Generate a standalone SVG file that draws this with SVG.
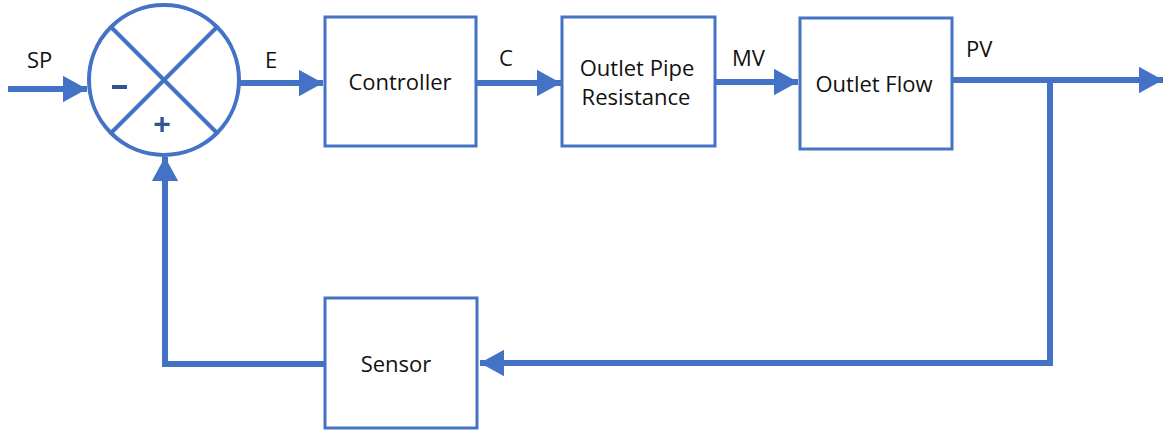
<svg xmlns="http://www.w3.org/2000/svg" width="1164" height="434" viewBox="0 0 1164 434">
<style>
.box{fill:#fff;stroke:#4472C4;stroke-width:3}
.ln{fill:none;stroke:#4472C4;stroke-width:6}
.t{font-family:"Open Sans","Liberation Sans",sans-serif;font-size:22px;fill:#111}
.sg{font-family:"Liberation Sans",sans-serif;font-size:30px;font-weight:bold;fill:#2F5597}
</style>
<defs>
<marker id="ah" markerWidth="4" markerHeight="4.4" refX="4" refY="2.2" orient="auto" markerUnits="strokeWidth">
<path d="M0,0 L4,2.2 L0,4.4 Z" fill="#4472C4"/>
</marker>
</defs>
<g id="connectors">
<line class="ln" x1="8" y1="89" x2="87" y2="89" marker-end="url(#ah)"/>
<line class="ln" x1="240" y1="83" x2="323" y2="83" marker-end="url(#ah)"/>
<line class="ln" x1="477" y1="83" x2="561" y2="83" marker-end="url(#ah)"/>
<line class="ln" x1="715" y1="82" x2="798" y2="82" marker-end="url(#ah)"/>
<line class="ln" x1="952" y1="80" x2="1163" y2="80" marker-end="url(#ah)"/>
<polyline class="ln" points="1050,80 1050,363 480,363" marker-end="url(#ah)"/>
<polyline class="ln" points="325,364 165,364 165,157" marker-end="url(#ah)"/>
</g>
<g id="labels">
<text class="t" x="27" y="68">SP</text>
<text class="t" x="265" y="68">E</text>
<text class="t" x="499" y="66">C</text>
<text class="t" x="732" y="66">MV</text>
<text class="t" x="966" y="57">PV</text>
</g>
<g id="summing">
<circle cx="164" cy="80" r="75" fill="#fff" stroke="#4472C4" stroke-width="4"/>
<line x1="111" y1="27" x2="217" y2="133" stroke="#4472C4" stroke-width="4"/>
<line x1="217" y1="27" x2="111" y2="133" stroke="#4472C4" stroke-width="4"/>
<rect x="112" y="85" width="15" height="4" fill="#2F5597"/>
<text class="sg" x="162" y="134" text-anchor="middle">+</text>
</g>
<g id="controller">
<rect class="box" x="325" y="17" width="151" height="129"/>
<text class="t" x="400" y="90" text-anchor="middle">Controller</text>
</g>
<g id="pipe">
<rect class="box" x="562" y="17" width="153" height="129"/>
<text class="t" x="637" y="76" text-anchor="middle">Outlet Pipe</text>
<text class="t" x="636" y="105" text-anchor="middle">Resistance</text>
</g>
<g id="flow">
<rect class="box" x="800" y="18" width="152" height="131"/>
<text class="t" x="874" y="92" text-anchor="middle">Outlet Flow</text>
</g>
<g id="sensor">
<rect class="box" x="325" y="298" width="152" height="130"/>
<text class="t" x="396" y="372" text-anchor="middle">Sensor</text>
</g>
</svg>
